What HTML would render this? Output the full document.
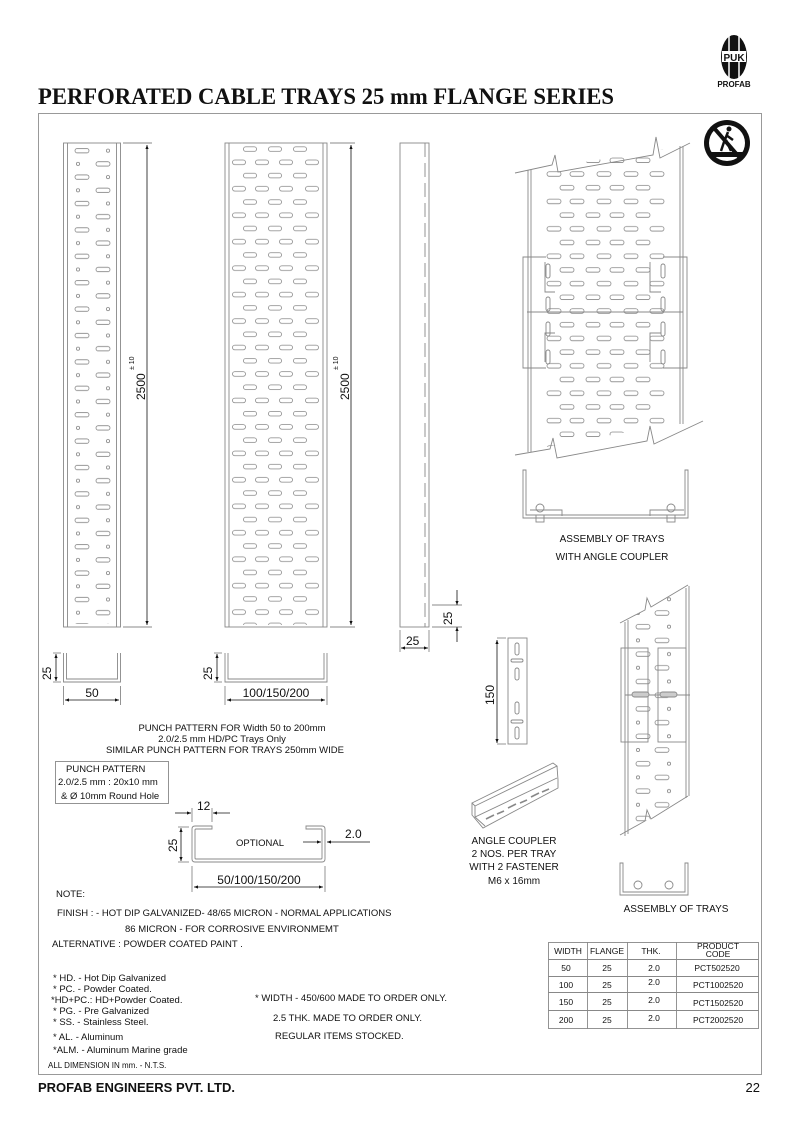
<!DOCTYPE html>
<html><head><meta charset="utf-8"><style>
html,body{margin:0;padding:0;background:#fff}
svg{display:block}
text{font-family:"Liberation Sans",sans-serif;fill:#111}
</style></head><body>
<svg width="800" height="1131" viewBox="0 0 800 1131" xmlns="http://www.w3.org/2000/svg">
<defs>
<marker id="ar" viewBox="0 0 10 10" refX="10" refY="5" markerWidth="7" markerHeight="5" orient="auto-start-reverse"><path d="M0,1 L10,5 L0,9z" fill="#111"/></marker>
<pattern id="p1" patternUnits="userSpaceOnUse" x="0" y="144.1" width="800" height="26.4">
<g fill="none" stroke="#888" stroke-width="0.8">
<rect x="75" y="4.4" width="14" height="4.4" rx="2.2"/><circle cx="108" cy="6.6" r="1.6"/>
<circle cx="78" cy="19.8" r="1.6"/><rect x="96" y="17.6" width="14" height="4.4" rx="2.2"/>
</g></pattern>
<pattern id="p2" patternUnits="userSpaceOnUse" x="0" y="142.4" width="800" height="26.46">
<g fill="none" stroke="#888" stroke-width="0.8">
<rect x="243.5" y="4.4" width="13" height="4.6" rx="2.3"/><rect x="268.5" y="4.4" width="13" height="4.6" rx="2.3"/><rect x="293.5" y="4.4" width="13" height="4.6" rx="2.3"/>
<rect x="232.5" y="17.6" width="13" height="4.6" rx="2.3"/><rect x="255.5" y="17.6" width="13" height="4.6" rx="2.3"/><rect x="279.5" y="17.6" width="13" height="4.6" rx="2.3"/><rect x="305.5" y="17.6" width="13" height="4.6" rx="2.3"/>
</g></pattern>
<pattern id="p3" patternUnits="userSpaceOnUse" x="0" y="167" width="800" height="27.4">
<g fill="none" stroke="#888" stroke-width="0.8">
<rect x="547" y="4.7" width="14" height="4.6" rx="2.3"/><rect x="570" y="4.7" width="14" height="4.6" rx="2.3"/><rect x="597" y="4.7" width="14" height="4.6" rx="2.3"/><rect x="624" y="4.7" width="14" height="4.6" rx="2.3"/><rect x="650" y="4.7" width="14" height="4.6" rx="2.3"/>
<rect x="560" y="18.4" width="14" height="4.6" rx="2.3"/><rect x="586" y="18.4" width="14" height="4.6" rx="2.3"/><rect x="610" y="18.4" width="14" height="4.6" rx="2.3"/><rect x="636" y="18.4" width="14" height="4.6" rx="2.3"/>
</g></pattern>
<pattern id="p4" patternUnits="userSpaceOnUse" x="0" y="606" width="800" height="27.4">
<g fill="none" stroke="#888" stroke-width="0.8">
<circle cx="638" cy="7" r="1.6"/><rect x="655" y="4.7" width="14" height="4.6" rx="2.3"/>
<rect x="636" y="18.4" width="14" height="4.6" rx="2.3"/><circle cx="669" cy="20.7" r="1.6"/>
</g></pattern>
<clipPath id="c3"><polygon points="530,171 682,146 682,422 530,450"/></clipPath>
<clipPath id="c4"><polygon points="627,620 688,586 688,796 627,832"/></clipPath>
</defs>

<!-- logo -->
<ellipse cx="734" cy="57" rx="13" ry="22" fill="#111"/>
<line x1="729" y1="36" x2="729" y2="79" stroke="#fff" stroke-width="1.5"/>
<line x1="739" y1="36" x2="739" y2="79" stroke="#fff" stroke-width="1.5"/>
<rect x="722" y="51" width="24" height="11" fill="#fff"/>
<text x="734" y="61" font-size="10" font-weight="bold" text-anchor="middle">PUK</text>
<text x="734" y="87" font-size="8" font-weight="bold" text-anchor="middle">PROFAB</text>

<text x="38" y="104" font-size="23" font-weight="bold" textLength="576" lengthAdjust="spacingAndGlyphs" style="font-family:'Liberation Serif',serif">PERFORATED CABLE TRAYS 25 mm FLANGE SERIES</text>

<rect x="38.5" y="113.5" width="723" height="961" fill="none" stroke="#999" stroke-width="1"/>

<!-- no walk sign -->
<circle cx="727" cy="143" r="23" fill="#111"/>
<circle cx="727" cy="143" r="18" fill="#fff"/>
<rect x="710" y="152" width="34" height="5" fill="#111"/>
<circle cx="729" cy="129" r="2.5" fill="#111"/>
<path d="M728,132 L724,142 L721,151 M726,140 L731,151 M726,135 L733,140" stroke="#111" stroke-width="2.5" fill="none"/>
<line x1="714" y1="128" x2="740" y2="158" stroke="#111" stroke-width="4"/>

<g stroke="#888" stroke-width="0.9" fill="none">
<rect x="63.5" y="143" width="57" height="484"/>
<line x1="67.5" y1="143" x2="67.5" y2="627"/><line x1="116.5" y1="143" x2="116.5" y2="627"/>
<line x1="123" y1="143" x2="152" y2="143"/><line x1="123" y1="627" x2="152" y2="627"/>
<rect x="225" y="143" width="102" height="484"/>
<line x1="229" y1="143" x2="229" y2="627"/><line x1="323" y1="143" x2="323" y2="627"/>
<line x1="330" y1="143" x2="355" y2="143"/><line x1="330" y1="627" x2="355" y2="627"/>
<rect x="400" y="143" width="29" height="484"/>
<line x1="425" y1="143" x2="425" y2="627" stroke-dasharray="14,6"/>
<line x1="432" y1="605" x2="462" y2="605"/><line x1="432" y1="627" x2="462" y2="627"/>
<line x1="400" y1="630" x2="400" y2="652"/><line x1="429" y1="630" x2="429" y2="652"/>
<path d="M63.5,653 V682 H120.5 V653 M66.5,653 V679 H117.5 V653"/>
<line x1="63.5" y1="686" x2="63.5" y2="705"/><line x1="120.5" y1="686" x2="120.5" y2="705"/>
<line x1="53" y1="653" x2="61" y2="653"/><line x1="53" y1="682" x2="61" y2="682"/>
<path d="M225,653 V682 H327 V653 M228,653 V679 H324 V653"/>
<line x1="225" y1="686" x2="225" y2="705"/><line x1="327" y1="686" x2="327" y2="705"/>
<line x1="214" y1="653" x2="222" y2="653"/><line x1="214" y1="682" x2="222" y2="682"/>
<rect x="55.5" y="761.5" width="113" height="42"/>
<path d="M212,826 H195 Q192,826 192,829 V859 Q192,862 195,862 H322 Q325,862 325,859 V829 Q325,826 322,826 H306 V829 H321 Q322,829 322,830 V858 Q322,859 321,859 H196 Q195,859 195,858 V830 Q195,829 196,829 H212z"/>
<line x1="192" y1="808" x2="192" y2="822"/><line x1="212" y1="808" x2="212" y2="822"/>
<line x1="178" y1="827" x2="189" y2="827"/><line x1="178" y1="862" x2="189" y2="862"/>
<line x1="192" y1="866" x2="192" y2="892"/><line x1="325" y1="866" x2="325" y2="892"/>
<rect x="548.5" y="942.5" width="210" height="86"/>
<line x1="548" y1="959.5" x2="759" y2="959.5"/><line x1="548" y1="976.5" x2="759" y2="976.5"/><line x1="548" y1="992.5" x2="759" y2="992.5"/><line x1="548" y1="1010.5" x2="759" y2="1010.5"/>
<line x1="587.5" y1="942" x2="587.5" y2="1029"/><line x1="627.5" y1="942" x2="627.5" y2="1029"/><line x1="676.5" y1="942" x2="676.5" y2="1029"/>
</g>
<rect x="68" y="144" width="48" height="480" fill="url(#p1)"/>
<rect x="229.5" y="143" width="93" height="482" fill="url(#p2)"/>

<g stroke="#111" stroke-width="0.8" fill="none">
<line x1="147" y1="145" x2="147" y2="625" marker-start="url(#ar)" marker-end="url(#ar)"/>
<line x1="351" y1="145" x2="351" y2="625" marker-start="url(#ar)" marker-end="url(#ar)"/>
<line x1="457" y1="590" x2="457" y2="605" marker-end="url(#ar)"/><line x1="457" y1="642" x2="457" y2="627" marker-end="url(#ar)"/>
<line x1="401" y1="648" x2="428" y2="648" marker-start="url(#ar)" marker-end="url(#ar)"/>
<line x1="56" y1="654" x2="56" y2="681" marker-start="url(#ar)" marker-end="url(#ar)"/>
<line x1="65" y1="700" x2="119" y2="700" marker-start="url(#ar)" marker-end="url(#ar)"/>
<line x1="217" y1="654" x2="217" y2="681" marker-start="url(#ar)" marker-end="url(#ar)"/>
<line x1="227" y1="700" x2="325" y2="700" marker-start="url(#ar)" marker-end="url(#ar)"/>
<line x1="175" y1="813" x2="191" y2="813" marker-end="url(#ar)"/><line x1="230" y1="813" x2="213" y2="813" marker-end="url(#ar)"/>
<line x1="181" y1="828" x2="181" y2="861" marker-start="url(#ar)" marker-end="url(#ar)"/>
<line x1="194" y1="887" x2="323" y2="887" marker-start="url(#ar)" marker-end="url(#ar)"/>
<line x1="303" y1="842" x2="321" y2="842" marker-end="url(#ar)"/><line x1="370" y1="842" x2="327" y2="842" marker-end="url(#ar)"/>
<line x1="497" y1="640" x2="497" y2="743" marker-start="url(#ar)" marker-end="url(#ar)"/>
</g>

<g stroke="#888" stroke-width="0.9" fill="none">
<line x1="528" y1="170" x2="528" y2="452"/><line x1="531" y1="170" x2="531" y2="452"/>
<line x1="680" y1="146" x2="680" y2="424"/><line x1="683" y1="146" x2="683" y2="424"/>
<path d="M515,173 L552,165 L555,155 L558,172 L653,155 L656,137 L660,158 L690,143"/>
<path d="M515,455 L550,449 L553,438 L557,458 L647,441 L650,426 L654,444 L703,421"/>
<path d="M546,257 H523 V368 H546 M663,257 H687 V368 H663"/>
<path d="M545,262 V292 H555 M545,362 V333 H555 M650,262 V292 H661 M650,362 V333 H661"/>
<rect x="546" y="264" width="4" height="14" rx="2"/><rect x="546" y="297" width="4" height="14" rx="2"/><rect x="546" y="322" width="4" height="14" rx="2"/><rect x="546" y="350" width="4" height="14" rx="2"/>
<rect x="661" y="264" width="4" height="14" rx="2"/><rect x="661" y="297" width="4" height="14" rx="2"/><rect x="661" y="322" width="4" height="14" rx="2"/><rect x="661" y="350" width="4" height="14" rx="2"/>
<line x1="527" y1="312" x2="683" y2="312"/>
<path d="M523,470 V518 H688 V470 H685 V515 H526 V470z"/>
<path d="M530,510 H562 V516 M684,510 H650 V516"/>
<circle cx="540" cy="508" r="4"/><rect x="536" y="515" width="8" height="7"/>
<circle cx="671" cy="508" r="4"/><rect x="667" y="515" width="8" height="7"/>
</g>
<rect x="530" y="145" width="152" height="310" fill="url(#p3)" clip-path="url(#c3)"/>
<text x="612" y="542" font-size="10" text-anchor="middle">ASSEMBLY OF TRAYS</text>
<text x="612" y="560" font-size="10" text-anchor="middle">WITH ANGLE COUPLER</text>

<!-- angle coupler -->
<g stroke="#888" stroke-width="0.9" fill="none">
<rect x="508" y="638" width="19" height="106"/>
<rect x="515" y="643" width="4" height="12" rx="2"/><rect x="511" y="659" width="12" height="3" rx="1.5"/>
<rect x="515" y="668" width="4" height="12" rx="2"/><rect x="515" y="702" width="4" height="12" rx="2"/>
<rect x="511" y="720" width="12" height="3" rx="1.5"/><rect x="515" y="727" width="4" height="12" rx="2"/>
<line x1="497" y1="638" x2="506" y2="638"/><line x1="497" y1="744" x2="506" y2="744"/>
<path d="M472,803 L553,763 L557,766 L475,806 Z"/>
<path d="M472,803 V815 L483,828 L558,788 V780 L557,766"/>
<path d="M475,806 V817 L557,778"/>
<path d="M475,817 L485,826"/>
<path d="M486,819 l8,-4 M497,814 l7,-3 M508,808 l8,-4 M520,803 l7,-3 M531,797 l8,-4 M542,792 l7,-3" stroke-width="1.6"/>
</g>
<text x="514" y="844" font-size="10" text-anchor="middle">ANGLE COUPLER</text>
<text x="514" y="857" font-size="10" text-anchor="middle">2 NOS. PER TRAY</text>
<text x="514" y="870" font-size="10" text-anchor="middle">WITH 2 FASTENER</text>
<text x="514" y="884" font-size="10" text-anchor="middle">M6 x 16mm</text>

<g stroke="#888" stroke-width="0.9" fill="none">
<line x1="625" y1="622" x2="625" y2="836"/><line x1="628" y1="620" x2="628" y2="834"/>
<line x1="686" y1="588" x2="686" y2="798"/><line x1="689" y1="586" x2="689" y2="796"/>
<path d="M620,623 L645,610 L647,598 L651,607 L688,585"/>
<path d="M620,835 L645,821 L647,810 L651,819 L688,796"/>
<rect x="621" y="648" width="27" height="94"/><rect x="658" y="648" width="28" height="94"/>
<line x1="625" y1="695" x2="690" y2="695"/>
</g>
<rect x="625" y="585" width="64" height="252" fill="url(#p4)" clip-path="url(#c4)"/>
<g stroke="#888" stroke-width="0.9" fill="none">
<rect x="632" y="692" width="17" height="5" rx="2.5" fill="#ccc"/><rect x="660" y="692" width="17" height="5" rx="2.5" fill="#ccc"/>
<path d="M620,863 V895 H688 V863 H685 V892 H623 V863z"/>
<circle cx="638" cy="885" r="4"/><circle cx="669" cy="885" r="4"/>
</g>
<text x="676" y="912" font-size="10" text-anchor="middle">ASSEMBLY OF TRAYS</text>

<text transform="translate(145,400) rotate(-90)" font-size="12">2500</text>
<text transform="translate(134,370) rotate(-90)" font-size="7">± 10</text>
<text transform="translate(349,400) rotate(-90)" font-size="12">2500</text>
<text transform="translate(338,370) rotate(-90)" font-size="7">± 10</text>
<text transform="translate(452,625) rotate(-90)" font-size="12">25</text>
<text x="406" y="645" font-size="12">25</text>
<text transform="translate(51,680) rotate(-90)" font-size="12">25</text>
<text x="92" y="697" font-size="12" text-anchor="middle">50</text>
<text transform="translate(212,680) rotate(-90)" font-size="12">25</text>
<text x="276" y="697" font-size="12" text-anchor="middle">100/150/200</text>
<text transform="translate(494,705) rotate(-90)" font-size="12">150</text>

<text x="232" y="731" font-size="9.5" text-anchor="middle">PUNCH PATTERN FOR Width 50 to 200mm</text>
<text x="222" y="742" font-size="9.5" text-anchor="middle">2.0/2.5 mm  HD/PC  Trays Only</text>
<text x="225" y="753" font-size="9.5" text-anchor="middle">SIMILAR PUNCH PATTERN FOR TRAYS 250mm WIDE</text>
<text x="66" y="772" font-size="9.5">PUNCH PATTERN</text>
<text x="58" y="785" font-size="9.5">2.0/2.5 mm : 20x10 mm</text>
<text x="61" y="799" font-size="9.5"> &amp; Ø 10mm Round Hole</text>

<text x="197" y="810" font-size="12">12</text>
<text transform="translate(177,852) rotate(-90)" font-size="12">25</text>
<text x="236" y="846" font-size="9.5">OPTIONAL</text>
<text x="345" y="838" font-size="12">2.0</text>
<text x="259" y="884" font-size="12" text-anchor="middle">50/100/150/200</text>

<g font-size="9.5">
<text x="56" y="897">NOTE:</text>
<text x="57" y="916">FINISH : - HOT DIP GALVANIZED-    48/65 MICRON  - NORMAL APPLICATIONS</text>
<text x="125" y="932">86 MICRON - FOR CORROSIVE ENVIRONMEMT</text>
<text x="52" y="947">ALTERNATIVE : POWDER COATED PAINT .</text>
<text x="53" y="981">* HD. - Hot Dip Galvanized</text>
<text x="53" y="992">* PC. - Powder Coated.</text>
<text x="51" y="1003">*HD+PC.: HD+Powder Coated.</text>
<text x="53" y="1014">* PG. - Pre Galvanized</text>
<text x="53" y="1025">* SS. - Stainless Steel.</text>
<text x="53" y="1040">* AL. - Aluminum</text>
<text x="53" y="1053">*ALM. - Aluminum Marine grade</text>
<text x="255" y="1001">* WIDTH - 450/600 MADE TO ORDER ONLY.</text>
<text x="273" y="1021">2.5 THK. MADE TO ORDER ONLY.</text>
<text x="275" y="1039">REGULAR ITEMS STOCKED.</text>
</g>
<text x="48" y="1068" font-size="8">ALL DIMENSION IN mm. -  N.T.S.</text>

<g font-size="8.5" text-anchor="middle">
<text x="568" y="954">WIDTH</text><text x="607" y="954">FLANGE</text><text x="651" y="954">THK.</text>
<text x="718" y="949">PRODUCT</text><text x="718" y="957">CODE</text>
<text x="566" y="971">50</text><text x="607" y="971">25</text><text x="654" y="971">2.0</text><text x="717" y="971">PCT502520</text>
<text x="566" y="988">100</text><text x="607" y="988">25</text><text x="654" y="985">2.0</text><text x="718" y="988">PCT1002520</text>
<text x="566" y="1005">150</text><text x="607" y="1005">25</text><text x="654" y="1003">2.0</text><text x="718" y="1006">PCT1502520</text>
<text x="566" y="1023">200</text><text x="607" y="1023">25</text><text x="654" y="1021">2.0</text><text x="718" y="1023">PCT2002520</text>
</g>

<text x="38" y="1092" font-size="13" font-weight="bold">PROFAB ENGINEERS PVT. LTD.</text>
<text x="760" y="1092" font-size="13" text-anchor="end">22</text>
</svg>
</body></html>
